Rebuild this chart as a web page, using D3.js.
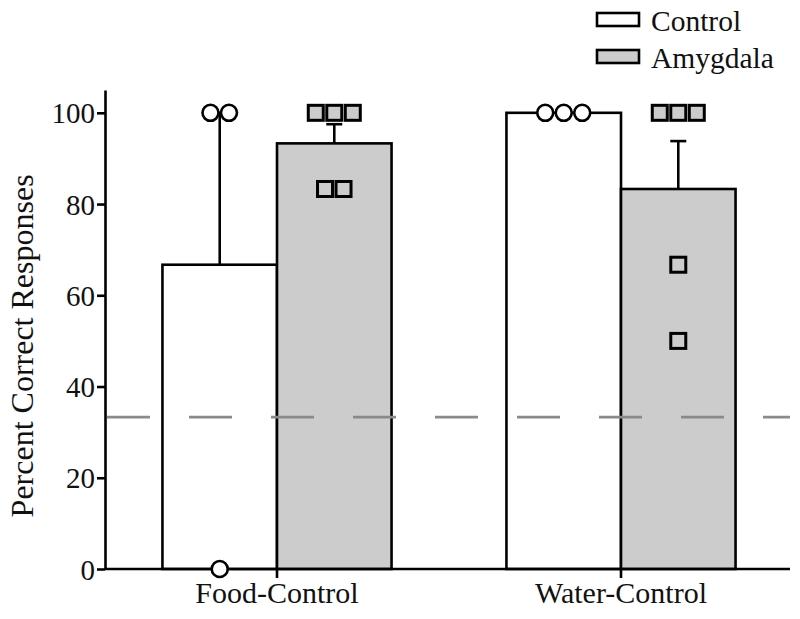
<!DOCTYPE html>
<html><head><meta charset="utf-8">
<script src="https://cdn.jsdelivr.net/npm/d3@7"></script>
<style>body{margin:0;background:#fff}svg{display:block}</style>
</head><body><svg id="c" width="800" height="619"></svg>
<script>
const categories = ["Food-Control", "Water-Control"];
const groups = ["Control", "Amygdala"];
const controlMeans = [66.7, 100];
const amygdalaMeans = [93.3, 83.3];
const controlErrTop = [100, 100];
const amygdalaErrTop = [97.5, 93.8];
const controlPoints = [[100, 100, 0], [100, 100, 100]];
const amygdalaPoints = [[100, 100, 100, 83.3, 83.3], [100, 100, 100, 66.7, 50]];
const chanceLevel = 33.3;
const yTicks = [0, 20, 40, 60, 80, 100];

const FONT = "'Liberation Serif', 'Times New Roman', Times, 'DejaVu Serif', serif";
const FS = 29;
const svg = d3.select("#c");
const x0 = 105, x1 = 790, yB = 569, yTop = 90;
const y = d3.scaleLinear().domain([0, 105]).range([yB, yTop]);
const x = d3.scaleBand().domain(categories).range([x0, x1 + 3]).paddingInner(0).paddingOuter(0);
const barW = x.bandwidth() * 0.333;
const xs = d3.scaleBand().domain(groups).range([-barW, barW]);
const fills = {Control: "#ffffff", Amygdala: "#cccccc"};
const means = {Control: controlMeans, Amygdala: amygdalaMeans};
const errs = {Control: controlErrTop, Amygdala: amygdalaErrTop};
const pts = {Control: controlPoints, Amygdala: amygdalaPoints};

const sw = 2.6;
categories.forEach((c, i) => {
  const cx = x(c) + x.bandwidth() / 2;
  groups.forEach(g => {
    const bx = cx + xs(g);
    const bc = bx + xs.bandwidth() / 2;
    svg.append("line").attr("x1", bc).attr("x2", bc).attr("y1", y(means[g][i])).attr("y2", y(errs[g][i]))
      .attr("stroke", "#000").attr("stroke-width", sw);
    svg.append("line").attr("x1", bc - 8).attr("x2", bc + 8).attr("y1", y(errs[g][i])).attr("y2", y(errs[g][i]))
      .attr("stroke", "#000").attr("stroke-width", sw);
    svg.append("rect").attr("x", bx).attr("y", y(means[g][i])).attr("width", xs.bandwidth())
      .attr("height", yB - y(means[g][i])).attr("fill", fills[g]).attr("stroke", "#000").attr("stroke-width", sw);
  });
});

svg.append("line").attr("x1", x0 + 2).attr("x2", x1).attr("y1", y(chanceLevel)).attr("y2", y(chanceLevel))
  .attr("stroke", "#8a8a8a").attr("stroke-width", 2.8).attr("stroke-dasharray", "43,39");

const yAxis = svg.append("g").attr("transform", `translate(${x0},0)`)
  .call(d3.axisLeft(y).tickValues(yTicks).tickSize(8).tickSizeOuter(0));
yAxis.attr("font-family", FONT).attr("font-size", FS);
yAxis.select(".domain").attr("stroke-width", sw).attr("stroke", "#000");
yAxis.selectAll(".tick line").attr("stroke-width", sw).attr("stroke", "#000");
yAxis.selectAll(".tick text").attr("x", -10).attr("dy", "0.35em").attr("fill", "#111");

const xAxis = svg.append("g").attr("transform", `translate(0,${yB})`)
  .call(d3.axisBottom(x).tickSize(9).tickSizeOuter(0));
xAxis.attr("font-family", FONT).attr("font-size", 30);
xAxis.select(".domain").attr("stroke-width", sw).attr("stroke", "#000").attr("d", `M${x0},0H${x1}`);
xAxis.selectAll(".tick line").attr("stroke-width", sw).attr("stroke", "#000");
xAxis.selectAll(".tick text").attr("y", 34).attr("dy", 0).attr("fill", "#111");

const spacing = 18.5;
categories.forEach((c, i) => {
  const cx = x(c) + x.bandwidth() / 2;
  groups.forEach(g => {
    const bc = cx + xs(g) + xs.bandwidth() / 2;
    const byVal = d3.group(pts[g][i], v => v);
    byVal.forEach((arr, v) => {
      const n = arr.length;
      arr.forEach((_, k) => {
        const px = bc + (k - (n - 1) / 2) * spacing;
        if (g === "Control") {
          svg.append("circle").attr("cx", px).attr("cy", y(v)).attr("r", 8)
            .attr("fill", "#fff").attr("stroke", "#000").attr("stroke-width", sw);
        } else {
          svg.append("rect").attr("x", px - 7.5).attr("y", y(v) - 7.5).attr("width", 15).attr("height", 15)
            .attr("fill", "#cccccc").attr("stroke", "#000").attr("stroke-width", sw + 0.4);
        }
      });
    });
  });
});

svg.append("text").attr("transform", `translate(33,${(y(0) + y(100)) / 2 + 5}) rotate(-90)`)
  .attr("text-anchor", "middle").attr("font-family", FONT).attr("font-size", 32).attr("fill", "#111")
  .text("Percent Correct Responses");

groups.forEach((g, i) => {
  const ly = 13 + i * 37;
  svg.append("rect").attr("x", 597).attr("y", ly).attr("width", 42).attr("height", 13)
    .attr("fill", fills[g]).attr("stroke", "#000").attr("stroke-width", sw);
  svg.append("text").attr("x", 651).attr("y", ly + 18).attr("font-family", FONT).attr("font-size", 29.5)
    .attr("fill", "#111").text(g);
});
</script></body></html>
